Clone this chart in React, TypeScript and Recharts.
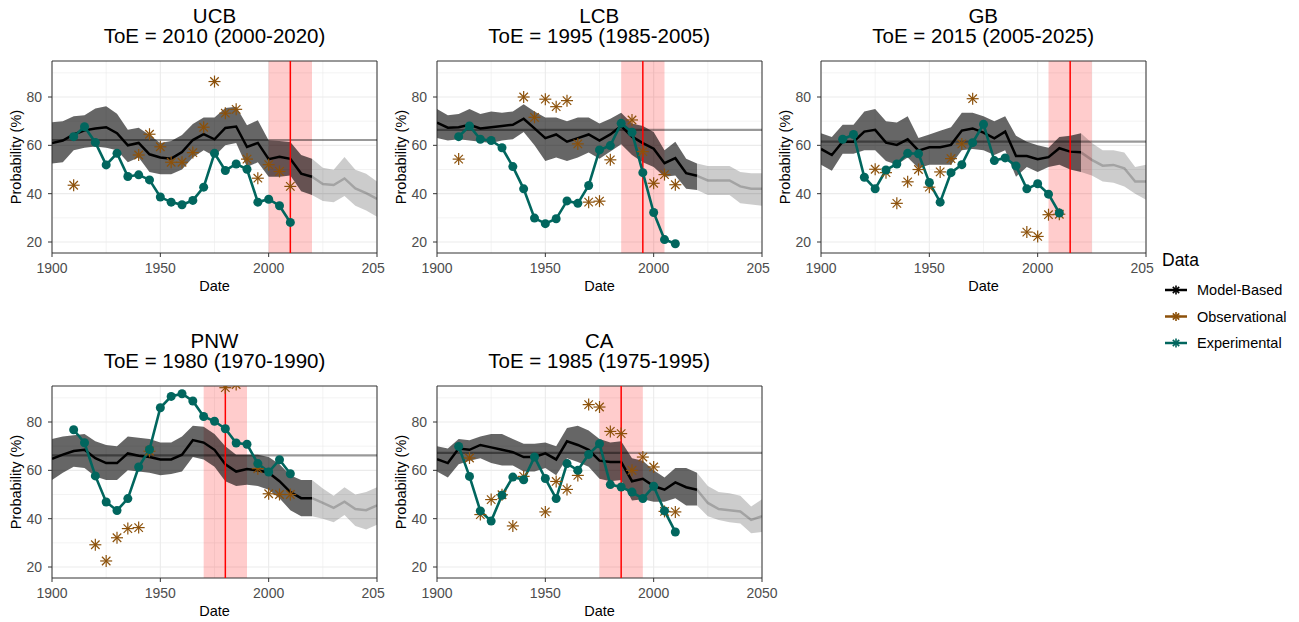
import React from 'react';
import {
  ComposedChart, Line, Area, XAxis, YAxis, CartesianGrid,
  ReferenceArea, ReferenceLine, Label,
} from 'recharts';

// ---------- shared categories ----------
const years = [1900, 1905, 1910, 1915, 1920, 1925, 1930, 1935, 1940, 1945, 1950, 1955, 1960, 1965, 1970, 1975, 1980, 1985, 1990, 1995, 2000, 2005, 2010, 2015, 2020, 2025, 2030, 2035, 2040, 2045, 2050];
const sampleYears = [1910, 1915, 1920, 1925, 1930, 1935, 1940, 1945, 1950, 1955, 1960, 1965, 1970, 1975, 1980, 1985, 1990, 1995, 2000, 2005, 2010];
const xTicks = [1900, 1950, 2000, 2050];
const xMinor = [1925, 1975, 2025];
const yTicks = [20, 40, 60, 80];
const yMinor = [30, 50, 70, 90];
const yDomain = [15.45, 94.9];
const lastObservedYear = 2020;
const legendLabels = ['Model-Based', 'Observational', 'Experimental'];

// ---------- UCB ----------
const ucbModel = [61, 62, 64.5, 66.2, 67, 67.5, 65, 60, 61, 56.3, 55, 54.5, 57.2, 62.2, 64.6, 62.5, 67.2, 67.8, 59.3, 61, 54.3, 55.3, 54.4, 48.3, 47, 44, 43.6, 46.3, 42.2, 40.2, 37.8];
const ucbUpper = [69.6, 70, 72, 72.5, 75.2, 76.2, 73.1, 66.5, 67.3, 64.3, 61, 61.8, 64.3, 68.8, 71.5, 71.5, 75.4, 76, 68.3, 70.4, 62, 61.8, 61.4, 56, 54.4, 50.7, 49.9, 55.2, 49.9, 48.2, 45];
const ucbLower = [52.5, 53, 58, 59, 59.5, 59, 58, 53, 55, 49, 48, 48, 50, 55, 58, 55.5, 60, 61, 51, 53, 47, 47, 47.5, 41, 39.5, 37, 36.5, 39, 35, 33, 30.5];
const ucbExp = [63.6, 67.7, 61.2, 51.9, 56.7, 47.1, 47.8, 45.7, 38.6, 36.5, 35.4, 37.2, 42.7, 56.7, 49.6, 52.3, 50.1, 36.5, 37.7, 35, 28.1];
const ucbObs = [43.5, null, null, null, null, null, 56, 64.6, 59.4, 53, 53, 57, 67.5, 86.4, 73.3, 74.9, 54.3, 46.4, 52, 49.2, 43];

// ---------- LCB ----------
const lcbModel = [69.4, 67.3, 67.5, 68.5, 67, 67.5, 68, 68.5, 71, 67, 63, 64.5, 61.5, 63, 64.5, 62, 64.5, 68, 63.6, 60.9, 58.6, 52.6, 54.7, 48.5, 47.4, 45.5, 45.5, 45.5, 43, 42, 42];
const lcbUpper = [75, 72.5, 73, 75, 73, 74, 73.5, 74, 77, 74, 71.5, 71.5, 70, 71.5, 71.5, 69, 71, 73.5, 69, 68, 65.5, 58, 61.5, 54.5, 52.5, 51.5, 51.5, 51.5, 49, 48.5, 48.5];
const lcbLower = [63, 62, 62.5, 62, 61.5, 61, 62, 62.5, 65.5, 60, 53.5, 55, 53.5, 55, 57, 54.5, 57.5, 60.5, 56, 53, 51, 47, 47.5, 42, 41.5, 39.5, 39.5, 39.5, 36, 35.5, 35];
const lcbExp = [63.6, 68, 62.5, 62, 59, 51.2, 42, 29.9, 27.6, 29.6, 37, 36, 43.4, 58.1, 59.9, 69.1, 65.4, 48.7, 32.2, 21, 19.3];
const lcbObs = [54.3, null, null, null, null, null, 80, 71.6, 79.1, 76, 78.5, 60.6, 36.5, 36.9, 54, null, 70.5, 57.4, 44.3, 47.9, 43.7];

// ---------- GB ----------
const gbModel = [58.5, 56, 61.5, 61.5, 65.7, 66.4, 61.1, 60.2, 62.5, 57.8, 59.2, 59.2, 60.2, 66.1, 67, 65.3, 62.9, 65.7, 55.6, 55.6, 54.3, 55.1, 58.8, 57.4, 57.1, 54, 51.6, 51.9, 50.5, 45, 45];
const gbUpper = [65, 63.5, 68.5, 68.5, 74, 75, 70, 69.5, 72, 63, 64.5, 66, 67.5, 73.5, 73.5, 72, 70, 72, 64, 61.5, 60, 59, 63.5, 64, 65, 61, 58, 58, 57, 51, 52];
const gbLower = [52, 49.5, 56.5, 56.5, 58, 58, 53.5, 52, 55, 50.5, 52, 52, 52, 58, 58.5, 58, 56, 58, 47, 51, 49, 51, 52, 50, 49, 47.5, 45, 44.5, 43, 40, 37.5];
const gbExp = [62.5, 64.5, 46.8, 42, 49.8, 52.3, 56.7, 56.5, 44.6, 36.5, 48.7, 52, 61.1, 68.7, 53.7, 54.8, 51.5, 42, 44.1, 39.8, 32];
const gbObs = [null, null, null, 50.1, 48.7, 36, 44.9, 50, 42.7, 49, 54.5, 60.6, 79.3, null, null, null, null, 24.1, 22.3, 31.3, 31.5];

// ---------- PNW ----------
const pnwModel = [64.8, 66.5, 68, 68.5, 65, 63, 63, 67, 66, 65.5, 64.5, 64.5, 66.5, 72.5, 71.5, 68.5, 62.5, 59.5, 60.5, 60, 59, 55.5, 51, 48.5, 48.5, 46.5, 44.5, 47, 44, 43.5, 45.5];
const pnwUpper = [73, 74, 74.5, 75, 72, 70.5, 70, 74, 73.5, 73, 71.5, 71.5, 74, 78.5, 78, 75, 70, 66.5, 66.5, 66.5, 65.5, 62.5, 58, 56, 56, 52.5, 49.5, 53, 50, 51, 53];
const pnwLower = [56, 59, 61.5, 61, 57.5, 56, 56, 60, 59.5, 59, 58, 58.5, 59.5, 65.5, 64.5, 61.5, 55.5, 53.5, 54, 53.5, 52, 48.5, 43.5, 41, 41, 40, 38.5, 41.5, 37, 35.5, 37.5];
const pnwExp = [76.8, 71.4, 57.7, 46.9, 43.4, 48.3, 61.4, 68.6, 85.9, 90.6, 91.7, 88.7, 82.3, 80.3, 77.2, 71.3, 70.8, 62.8, 59.3, 64.4, 58.6];
const pnwObs = [null, null, 29.2, 22.5, 32.1, 35.9, 36.3, 67.9, null, null, null, null, null, null, 94.2, 95.5, null, 60.7, 50.3, 50, 50];

// ---------- CA ----------
const caModel = [64.6, 63, 69, 68.5, 70.5, 69.5, 68.5, 67.5, 65.5, 65.5, 67, 64.5, 72, 70.5, 68.5, 64, 63.5, 63.5, 55.5, 56.5, 53.5, 52, 55, 53, 52, 46.5, 44, 43.5, 43, 39.5, 41];
const caUpper = [70, 69, 73, 72.5, 74, 75, 75, 73, 71, 71, 71.5, 70, 77.5, 78.5, 76.5, 73, 71.5, 72, 65, 64, 60, 57, 61, 61, 59, 53.5, 51, 50.5, 49.5, 45, 48];
const caLower = [59.5, 57, 62.5, 64, 65, 63, 62, 62, 59.5, 59.5, 61, 58, 65, 63.5, 61.5, 56.5, 55.5, 56, 47.5, 48, 47, 47, 48.5, 45.5, 45.5, 41, 39.5, 38.5, 38, 34, 34.5];
const caExp = [69.9, 57.5, 43.2, 39, 49.7, 57.2, 56.1, 65.5, 56.6, 48.3, 62.8, 60, 66.6, 71, 54.1, 53.1, 51, 48.3, 53.4, 43.2, 34.5];
const caObs = [null, 65.1, 41.7, 47.9, 49.9, 37, 57.5, null, 42.8, 55.4, 52.1, 57.9, 87.2, 86.2, 76.1, 75.2, 60, 65.5, 61.4, 43, 42.8];

// ---------- per-region meta ----------
const regionNames = ['UCB', 'LCB', 'GB', 'PNW', 'CA'];
const toeYears = [2010, 1995, 2015, 1980, 1985];
const toeLow = [2000, 1985, 2005, 1970, 1975];
const toeHigh = [2020, 2005, 2025, 1990, 1995];
const baselines = [62.2, 66.4, 61.5, 66.2, 67.2];

const COL_MODEL = '#000000';
const COL_OBS = '#8C510A';
const COL_EXP = '#01665E';
const FONT = '"Liberation Sans", Arial, Helvetica, sans-serif';

function buildRows(model: number[], lower: number[], upper: number[], exp: (number | null)[], obs: (number | null)[]) {
  return years.map((y, i) => {
    const si = sampleYears.indexOf(y);
    const past = y <= lastObservedYear;
    const fut = y >= lastObservedYear;
    return {
      year: y,
      model: past ? model[i] : null,
      modelFut: fut ? model[i] : null,
      band: past ? [lower[i], upper[i]] : null,
      bandFut: fut ? [lower[i], upper[i]] : null,
      exp: si >= 0 ? exp[si] : null,
      obs: si >= 0 ? obs[si] : null,
    };
  });
}

const panelRows = [
  buildRows(ucbModel, ucbLower, ucbUpper, ucbExp, ucbObs),
  buildRows(lcbModel, lcbLower, lcbUpper, lcbExp, lcbObs),
  buildRows(gbModel, gbLower, gbUpper, gbExp, gbObs),
  buildRows(pnwModel, pnwLower, pnwUpper, pnwExp, pnwObs),
  buildRows(caModel, caLower, caUpper, caExp, caObs),
];

function Star({ cx, cy, color, r = 6, sw = 1.2 }: { cx: number; cy: number; color: string; r?: number; sw?: number }) {
  const d = r * 0.7071;
  return (
    <g stroke={color} strokeWidth={sw} strokeLinecap="butt">
      <line x1={cx - r} y1={cy} x2={cx + r} y2={cy} />
      <line x1={cx} y1={cy - r} x2={cx} y2={cy + r} />
      <line x1={cx - d} y1={cy - d} x2={cx + d} y2={cy + d} />
      <line x1={cx - d} y1={cy + d} x2={cx + d} y2={cy - d} />
    </g>
  );
}

const renderObsDot = (props: any) => {
  const { cx, cy, value, index } = props;
  if (value == null || cx == null || cy == null || Number.isNaN(cy)) return <g key={`o-${index}`} />;
  return (
    <g key={`o-${index}`}>
      <Star cx={cx} cy={cy} color={COL_OBS} />
    </g>
  );
};

// layout (positions only)
const PLOT_W = 325;
const Y_AXIS_W = 52;
const X_AXIS_H = 47;
const MARGIN_TOP = 61;
const CHART_H = 300;
const panelLayout = [
  { left: 0, top: 0, width: 385 },
  { left: 384.7, top: 0, width: 385 },
  { left: 768.7, top: 0, width: 385 },
  { left: 0, top: 325, width: 385 },
  { left: 384.7, top: 325, width: 410 },
];

function Panel({ idx }: { idx: number }) {
  const L = panelLayout[idx];
  const rows = panelRows[idx];
  const rightMargin = L.width - Y_AXIS_W - PLOT_W;
  return (
    <div style={{ position: 'absolute', left: L.left, top: L.top, width: L.width, height: CHART_H }}>
      <ComposedChart
        width={L.width}
        height={CHART_H}
        data={rows}
        margin={{ top: MARGIN_TOP, right: rightMargin, bottom: 0, left: 0 }}
      >
        <CartesianGrid horizontalValues={yMinor} verticalValues={xMinor} stroke="#ebebeb" strokeWidth={0.6} />
        <CartesianGrid horizontalValues={yTicks} verticalValues={xTicks} stroke="#ebebeb" strokeWidth={1.1} />
        <XAxis
          type="number"
          dataKey="year"
          domain={[1900, 2050]}
          ticks={xTicks}
          interval={0}
          allowDataOverflow
          height={X_AXIS_H}
          tickSize={4}
          tickMargin={6}
          axisLine={false}
          tickLine={{ stroke: '#333333' }}
          tick={{ fontSize: 14, fill: '#4d4d4d' }}
        >
          <Label value="Date" position="insideBottom" offset={9} style={{ fontSize: 14.5, fill: '#000' }} />
        </XAxis>
        <YAxis
          type="number"
          domain={yDomain}
          ticks={yTicks}
          interval={0}
          allowDataOverflow
          width={Y_AXIS_W}
          tickSize={4}
          tickMargin={6}
          axisLine={false}
          tickLine={{ stroke: '#333333' }}
          tick={{ fontSize: 14, fill: '#4d4d4d' }}
        >
          <Label value="Probability (%)" angle={-90} position="insideLeft" offset={16} style={{ fontSize: 14.5, fill: '#000', textAnchor: 'middle' }} />
        </YAxis>
        <ReferenceArea x1={toeLow[idx]} x2={toeHigh[idx]} fill="#ff0000" fillOpacity={0.2} stroke="none" ifOverflow="hidden" />
        <Area dataKey="band" type="linear" stroke="none" fill="#000" fillOpacity={0.6} isAnimationActive={false} dot={false} activeDot={false} />
        <Area dataKey="bandFut" type="linear" stroke="none" fill="#000" fillOpacity={0.2} isAnimationActive={false} dot={false} activeDot={false} />
        <ReferenceLine y={baselines[idx]} stroke="#000" strokeOpacity={0.4} strokeWidth={2.2} />
        <Line dataKey="modelFut" type="linear" stroke="#000" strokeOpacity={0.2} strokeWidth={2.5} dot={false} activeDot={false} isAnimationActive={false} />
        <Line dataKey="model" type="linear" stroke={COL_MODEL} strokeWidth={2.5} dot={false} activeDot={false} isAnimationActive={false} />
        <ReferenceLine x={toeYears[idx]} stroke="#ff0000" strokeWidth={1.5} />
        <Line dataKey="obs" type="linear" stroke="none" strokeWidth={0} dot={renderObsDot} activeDot={false} isAnimationActive={false} />
        <Line dataKey="exp" type="linear" stroke={COL_EXP} strokeWidth={2.6} dot={{ r: 4.5, fill: COL_EXP, stroke: 'none' }} activeDot={false} isAnimationActive={false} />
        <ReferenceArea x1={1900} x2={2050} y1={yDomain[0]} y2={yDomain[1]} fill="none" stroke="#333333" strokeWidth={1} ifOverflow="visible" />
      </ComposedChart>
    </div>
  );
}

function Overlay() {
  const legendColors = [COL_MODEL, COL_OBS, COL_EXP];
  return (
    <svg width={1299} height={622} style={{ position: 'absolute', left: 0, top: 0 }}>
      {regionNames.map((name, i) => {
        const L = panelLayout[i];
        const cx = L.left + Y_AXIS_W + PLOT_W / 2;
        const plotTop = L.top + MARGIN_TOP;
        return (
          <g key={name} fontSize={20.5} fill="#000" textAnchor="middle">
            <text x={cx} y={plotTop - 38}>{name}</text>
            <text x={cx} y={plotTop - 18}>{`ToE = ${toeYears[i]} (${toeLow[i]}-${toeHigh[i]})`}</text>
          </g>
        );
      })}
      <text x={1162} y={266} fontSize={17.5} fill="#000">Data</text>
      {legendLabels.map((lab, i) => {
        const cy = 290 + i * 26.5;
        return (
          <g key={lab}>
            <line x1={1165} x2={1187} y1={cy} y2={cy} stroke={legendColors[i]} strokeWidth={2.5} />
            <Star cx={1176} cy={cy} color={legendColors[i]} r={4.5} sw={1.6} />
            <text x={1197} y={cy + 5} fontSize={14.5} fill="#000">{lab}</text>
          </g>
        );
      })}
    </svg>
  );
}

export default function App() {
  return (
    <div style={{ position: 'absolute', left: 0, top: 0, width: 1299, height: 622, background: '#fff', fontFamily: FONT }}>
      <Overlay />
      {[0, 1, 2, 3, 4].map((i) => (
        <Panel key={i} idx={i} />
      ))}
    </div>
  );
}
